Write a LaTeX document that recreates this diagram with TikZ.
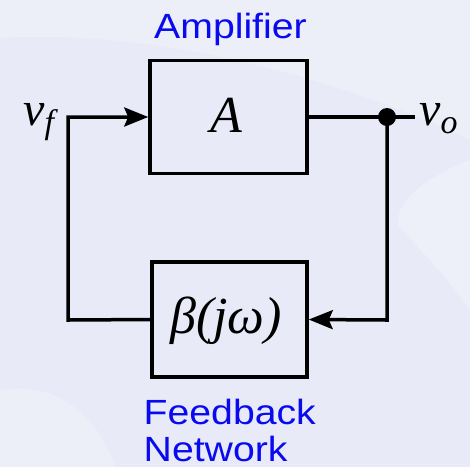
\documentclass[tikz,border=0pt]{standalone}
\usepackage{fontspec}
\newfontfamily\labfont[FakeStretch=1.12]{Liberation Sans}
\newfontfamily\symfont{Liberation Serif}
\usetikzlibrary{arrows.meta}
\definecolor{bg}{RGB}{232,235,247}
\definecolor{lab}{RGB}{10,10,240}
\newcommand{\subsc}[1]{\raisebox{-8pt}{\fontsize{34}{34}\selectfont #1}}
\tikzset{
  blockbox/.style={draw=black, line width=3.5pt, inner sep=0pt, minimum width=157pt, minimum height=113pt},
  wire/.style={line width=3.5pt},
  arr/.style={wire, -{Stealth[length=24pt,width=19pt,inset=4pt]}},
  mathlab/.style={inner sep=0pt, font=\symfont\itshape\fontsize{52}{54}\selectfont},
  siglab/.style={inner sep=0pt, anchor=base west, font=\symfont\itshape\fontsize{48}{50}\selectfont},
  bluelab/.style={inner sep=0pt, text=lab, text depth=0pt, font=\labfont\fontsize{35}{38}\selectfont}
}
\begin{document}
\begin{tikzpicture}[x=1pt,y=-1pt]
\useasboundingbox (0,0) rectangle (470,467);
% background
\fill[bg] (0,0) rectangle (470,467);
\fill[white,opacity=0.2] (0,0) -- (0,38) .. controls (120,30) and (300,60) .. (470,140) -- (470,0) -- cycle;
\fill[white,opacity=0.25] (470,160) .. controls (430,175) and (395,200) .. (398,225) .. controls (420,250) and (450,280) .. (470,310) -- cycle;
\fill[white,opacity=0.2] (0,390) .. controls (60,380) and (100,420) .. (115,467) -- (0,467) -- cycle;
% blocks
\node[blockbox] (amp) at (228.5,117) {};
\node[blockbox, minimum width=155pt, minimum height=115pt] (fb) at (229.5,319.5) {};
\node[mathlab, anchor=base] (Alab) at (226,132) {A};
\node[mathlab, anchor=base] (blab) at (226,333) {β(jω)};
% junction and wires
\coordinate (j) at (387,117);
\coordinate (vend) at (415,117);
\coordinate (jb) at (387,320);
\coordinate (lt) at (68,117);
\coordinate (lb) at (68,320);
\draw[wire] (amp.east) -- (j) -- (vend);
\fill (j) circle (9pt);
\draw[arr] (j) -- (jb) -- (fb.east);
\draw[arr] (fb.west) -- (lb) -- (lt) -- (amp.west);
% signal labels
\node[siglab] (vf) at (23,125) {v\subsc{f}};
\node[siglab] (vo) at (419,125) {v\subsc{o}};
% blue labels
\node[bluelab, anchor=base west] (amplab) at (154,38) {Amplifier};
\node[bluelab, anchor=base west] (fblab) at (143.5,424) {Feedback};
\node[bluelab, anchor=base west] (netlab) at (143.5,461) {Network};
\end{tikzpicture}
\end{document}
